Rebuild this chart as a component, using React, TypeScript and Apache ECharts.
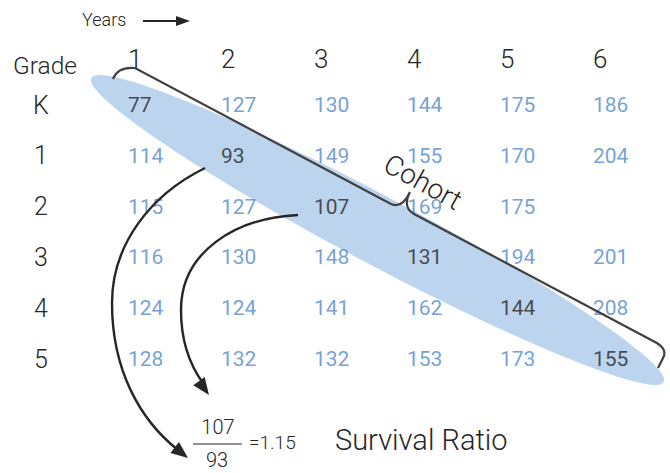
import React, { useEffect, useRef } from 'react';
import * as echarts from 'echarts';

// ---- data ----
const years = ['1', '2', '3', '4', '5', '6'];
const grades = ['K', '1', '2', '3', '4', '5'];
const gradeK = [77, 127, 130, 144, 175, 186];
const grade1 = [114, 93, 149, 155, 170, 204];
const grade2 = [115, 127, 107, 169, 175, null];
const grade3 = [116, 130, 148, 131, 194, 201];
const grade4 = [124, 124, 141, 162, 144, 208];
const grade5 = [128, 132, 132, 153, 173, 155];
const enrollment = [gradeK, grade1, grade2, grade3, grade4, grade5];
const ratioNumerator = '107';
const ratioDenominator = '93';
const ratioValue = '=1.15';

// ---- decorative shapes ----
const braceD =
  'M 113 79 C 116 71 124 67 135 68 L 391 204 Q 402 209 410 192 Q 402 207 414 214 L 655 342 Q 668 349 663 358 L 658 368';
const arrowOuterD = 'M 205 168 C 150 195 112 245 112 303 C 112 370 140 420 178 450';
const arrowInnerD = 'M 298 215 C 235 218 181 252 181 310 C 181 345 192 368 203 383';

echarts.graphic.registerShape('cohortBrace', echarts.graphic.extendPath(braceD, {}) as any);
echarts.graphic.registerShape('arrowOuter', echarts.graphic.extendPath(arrowOuterD, {}) as any);
echarts.graphic.registerShape('arrowInner', echarts.graphic.extendPath(arrowInnerD, {}) as any);

const FONT = 'Roboto';
const BLUE = '#5288cc';
const DARK = '#262626';

export default function App() {
  const ref = useRef<HTMLDivElement>(null);

  useEffect(() => {
    if (!ref.current) return;
    const chart = echarts.init(ref.current, null, { renderer: 'svg' });

    const data: any[] = [];
    enrollment.forEach((row, r) => {
      row.forEach((v, c) => {
        if (v === null) return;
        const onCohort = r === c;
        data.push({
          value: [c, r, v],
          label: { color: onCohort ? DARK : BLUE },
        });
      });
    });

    const line = { stroke: DARK, lineWidth: 2.4, fill: 'none' };

    chart.setOption({
      animation: false,
      grid: { left: 81.5, top: 79.6, width: 558, height: 304.8 },
      xAxis: {
        type: 'category',
        data: years,
        position: 'top',
        axisLine: { show: false },
        axisTick: { show: false },
        splitLine: { show: false },
        axisLabel: {
          color: DARK,
          fontSize: 26,
          fontFamily: FONT,
          fontWeight: 300,
          align: 'left',
          verticalAlign: 'middle',
          margin: 21,
        },
      },
      yAxis: {
        type: 'category',
        data: grades,
        inverse: true,
        axisLine: { show: false },
        axisTick: { show: false },
        splitLine: { show: false },
        axisLabel: {
          color: DARK,
          fontSize: 25,
          fontFamily: FONT,
          fontWeight: 300,
          align: 'center',
          verticalAlign: 'middle',
          margin: 40.5,
        },
      },
      series: [
        {
          type: 'scatter',
          symbolSize: 1,
          itemStyle: { color: 'rgba(0,0,0,0)' },
          z: 3,
          data,
          label: {
            show: true,
            position: 'inside',
            align: 'left',
            verticalAlign: 'middle',
            fontSize: 21,
            fontFamily: FONT,
            formatter: (p: any) => String(p.value[2]),
          },
        },
      ],
      graphic: [
        {
          type: 'ellipse',
          x: 377.5,
          y: 230,
          rotation: (-28 * Math.PI) / 180,
          shape: { cx: 0, cy: 0, rx: 324, ry: 34 },
          style: { fill: '#bcd4ee' },
          z: 0,
        },
        { type: 'cohortBrace', shape: {}, style: { ...line, stroke: '#404040', lineWidth: 2.2 }, z: 10 },
        { type: 'arrowOuter', shape: {}, style: line, z: 10 },
        { type: 'arrowInner', shape: {}, style: line, z: 10 },
        {
          type: 'polygon',
          shape: { points: [[188, 458], [170.4, 453], [179, 442]] },
          style: { fill: DARK },
          z: 10,
        },
        {
          type: 'polygon',
          shape: { points: [[209, 395], [193.3, 385.3], [204.7, 377.1]] },
          style: { fill: DARK },
          z: 10,
        },
        {
          type: 'text',
          x: 423,
          y: 182,
          rotation: (-29 * Math.PI) / 180,
          style: {
            text: 'Cohort',
            fontSize: 28,
            fontFamily: FONT,
            fontWeight: 300,
            fill: DARK,
            align: 'center',
            verticalAlign: 'middle',
          },
          z: 10,
        },
        {
          type: 'text',
          x: 13,
          y: 65,
          style: {
            text: 'Grade',
            fontSize: 24.5,
            fontFamily: FONT,
            fontWeight: 300,
            fill: DARK,
            align: 'left',
            verticalAlign: 'middle',
          },
        },
        {
          type: 'text',
          x: 82,
          y: 19,
          style: {
            text: 'Years',
            fontSize: 18,
            fontFamily: FONT,
            fontWeight: 300,
            fill: DARK,
            align: 'left',
            verticalAlign: 'middle',
          },
        },
        {
          type: 'line',
          shape: { x1: 143, y1: 21, x2: 178, y2: 21 },
          style: { stroke: DARK, lineWidth: 2 },
        },
        {
          type: 'polygon',
          shape: { points: [[190, 21], [176, 16], [176, 26]] },
          style: { fill: DARK },
        },
        {
          type: 'text',
          x: 218,
          y: 427,
          style: {
            text: ratioNumerator,
            fontSize: 20,
            fontFamily: FONT,
            fontWeight: 300,
            fill: DARK,
            align: 'center',
            verticalAlign: 'middle',
          },
        },
        {
          type: 'line',
          shape: { x1: 193, y1: 444, x2: 242, y2: 444 },
          style: { stroke: DARK, lineWidth: 1.2 },
        },
        {
          type: 'text',
          x: 217,
          y: 460,
          style: {
            text: ratioDenominator,
            fontSize: 20,
            fontFamily: FONT,
            fontWeight: 300,
            fill: DARK,
            align: 'center',
            verticalAlign: 'middle',
          },
        },
        {
          type: 'text',
          x: 249,
          y: 442,
          style: {
            text: ratioValue,
            fontSize: 19,
            fontFamily: FONT,
            fontWeight: 300,
            fill: DARK,
            align: 'left',
            verticalAlign: 'middle',
          },
        },
        {
          type: 'text',
          x: 335,
          y: 440,
          style: {
            text: 'Survival Ratio',
            fontSize: 29,
            fontFamily: FONT,
            fontWeight: 300,
            fill: DARK,
            align: 'left',
            verticalAlign: 'middle',
          },
        },
      ],
    });

    return () => chart.dispose();
  }, []);

  return (
    <div
      ref={ref}
      style={{ position: 'fixed', left: 0, top: 0, width: 670, height: 473, background: '#fff' }}
    />
  );
}
